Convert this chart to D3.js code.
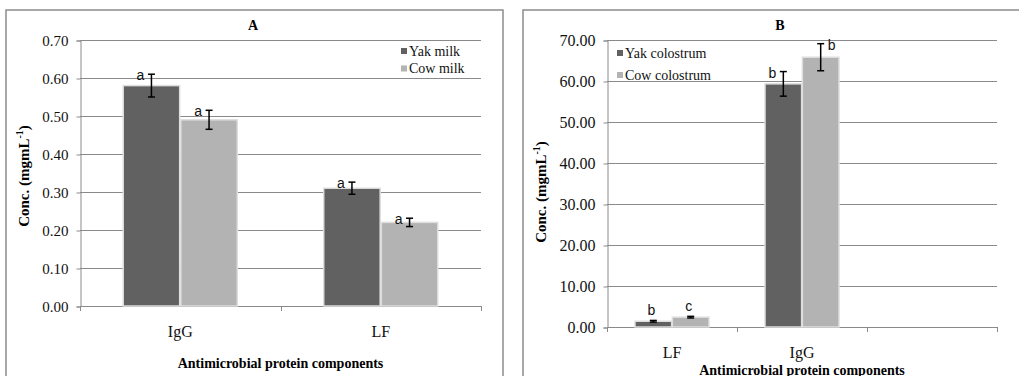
<!DOCTYPE html>
<html>
<head>
<meta charset="utf-8">
<script src="https://cdn.jsdelivr.net/npm/d3@7"></script>
<style>
  html, body { margin: 0; padding: 0; background: #fff; }
  svg { display: block; }
</style>
</head>
<body>
<svg id="chart" width="1019" height="376"></svg>
<script>
// ---- Panel A: milk ----
const catsA = ["IgG", "LF"];
const yakMilk = [0.58, 0.31];
const cowMilk = [0.49, 0.22];
const yakMilkErr = [0.03, 0.016];
const cowMilkErr = [0.025, 0.011];
const yakMilkSig = ["a", "a"];
const cowMilkSig = ["a", "a"];
const ticksA = [0, 0.1, 0.2, 0.3, 0.4, 0.5, 0.6, 0.7];
const seriesA = ["Yak milk", "Cow milk"];

// ---- Panel B: colostrum ----
const catsB = ["LF", "IgG", ""];
const yakColostrum = [1.4, 59.3];
const cowColostrum = [2.4, 65.8];
const yakColostrumErr = [0.2, 3.0];
const cowColostrumErr = [0.2, 3.3];
const yakColostrumSig = ["b", "b"];
const cowColostrumSig = ["c", "b"];
const ticksB = [0, 10, 20, 30, 40, 50, 60, 70];
const seriesB = ["Yak colostrum", "Cow colostrum"];

const DARK = "#616161";
const LIGHT = "#b3b3b3";
const GRID = "#8a8a8a";
const SERIF = "'Liberation Serif', 'Times New Roman', serif";
const SANS = "'Liberation Sans', Arial, sans-serif";

const svg = d3.select("#chart");

function panel(opt) {
  const g = svg.append("g");

  // frame around the panel
  g.append("rect")
    .attr("x", opt.frame[0]).attr("y", opt.frame[1])
    .attr("width", opt.frame[2]).attr("height", opt.frame[3])
    .attr("fill", "none").attr("stroke", "#8c8c8c").attr("stroke-width", 1.5);

  const x = d3.scaleBand().domain(opt.cats.map((c, i) => i))
    .range([opt.left, opt.right]).paddingInner(0).paddingOuter(0);
  const y = d3.scaleLinear().domain([0, opt.ticks[opt.ticks.length - 1]])
    .range([opt.bottom, opt.top]);

  // horizontal gridlines
  g.append("g").selectAll("line").data(opt.ticks.slice(1)).join("line")
    .attr("x1", opt.left).attr("x2", opt.right)
    .attr("y1", d => Math.round(y(d)) + 0.5).attr("y2", d => Math.round(y(d)) + 0.5)
    .attr("stroke", GRID).attr("stroke-width", 1);

  // y axis
  const yAxis = d3.axisLeft(y).tickValues(opt.ticks).tickFormat(d3.format(".2f"))
    .tickSize(4).tickPadding(8);
  const ya = g.append("g").attr("transform", `translate(${opt.left + 0.5},0.5)`).call(yAxis);
  ya.attr("font-family", null).attr("font-size", null);
  ya.select(".domain").attr("stroke", GRID);
  ya.selectAll(".tick line").attr("stroke", GRID);
  ya.selectAll(".tick text").style("font-family", SERIF).style("font-size", opt.tickFont + "px")
    .attr("fill", "#111");

  // category axis with boundary ticks
  const bounds = d3.range(opt.cats.length + 1).map(i => opt.left + i * x.bandwidth());
  const xa = g.append("g");
  xa.append("line").attr("x1", opt.left).attr("x2", opt.right)
    .attr("y1", opt.bottom + 0.5).attr("y2", opt.bottom + 0.5).attr("stroke", GRID);
  xa.selectAll("line.b").data(bounds).join("line").attr("class", "b")
    .attr("x1", d => Math.round(d) + 0.5).attr("x2", d => Math.round(d) + 0.5)
    .attr("y1", opt.bottom).attr("y2", opt.bottom + 5).attr("stroke", GRID);
  xa.selectAll("text").data(opt.cats).join("text")
    .style("font-family", SERIF).style("font-size", "16px").attr("fill", "#111")
    .attr("text-anchor", "middle")
    .attr("x", (d, i) => x(i) + x.bandwidth() / 2)
    .attr("y", opt.catLabelY)
    .text(d => d);

  // bars
  const inner = d3.scaleBand().domain([0, 1])
    .range([0, x.bandwidth()]).paddingOuter(0.75).paddingInner(0.02);
  const series = [
    { vals: opt.yak, err: opt.yakErr, sig: opt.yakSig, side: opt.yakSide, color: DARK },
    { vals: opt.cow, err: opt.cowErr, sig: opt.cowSig, side: opt.cowSide, color: LIGHT }
  ];
  series.forEach((s, si) => {
    const sg = g.append("g");
    const data = s.vals.map((v, i) => ({ v, i, e: s.err[i], sig: s.sig[i], side: s.side[i] }));
    const bx = d => x(d.i) + inner(si);
    const cx = d => bx(d) + inner.bandwidth() / 2;

    sg.selectAll("rect").data(data).join("rect")
      .attr("x", bx).attr("width", inner.bandwidth())
      .attr("y", d => y(d.v)).attr("height", d => y(0) - y(d.v))
      .attr("fill", s.color).attr("stroke", "#dedede").attr("stroke-width", 1.5);

    // error bars
    const eb = sg.selectAll("g.err").data(data).join("g").attr("class", "err");
    eb.append("line").attr("x1", cx).attr("x2", cx)
      .attr("y1", d => y(d.v + d.e)).attr("y2", d => y(d.v - d.e))
      .attr("stroke", "#000").attr("stroke-width", 1.5);
    eb.append("line").attr("x1", d => cx(d) - 3.5).attr("x2", d => cx(d) + 3.5)
      .attr("y1", d => y(d.v + d.e)).attr("y2", d => y(d.v + d.e))
      .attr("stroke", "#000").attr("stroke-width", 1.5);
    eb.append("line").attr("x1", d => cx(d) - 3.5).attr("x2", d => cx(d) + 3.5)
      .attr("y1", d => y(d.v - d.e)).attr("y2", d => y(d.v - d.e))
      .attr("stroke", "#000").attr("stroke-width", 1.5);

    // significance letters
    sg.selectAll("text").data(data).join("text")
      .style("font-family", SANS).style("font-size", "14px").attr("fill", "#111")
      .attr("text-anchor", "middle").attr("dominant-baseline", "central")
      .attr("x", d => d.side === "left" ? cx(d) - 11 : d.side === "right" ? cx(d) + 11 : cx(d) - 2)
      .attr("y", d => d.side === "top" ? y(d.v + d.e) - 10 : y(d.v + d.e) + 1)
      .text(d => d.sig);
  });

  // legend
  const lg = g.append("g");
  opt.series.forEach((name, i) => {
    const ly = opt.legend[1] + i * opt.legend[2];
    lg.append("rect").attr("x", opt.legend[0]).attr("y", ly - 3)
      .attr("width", 6).attr("height", 6).attr("fill", i === 0 ? DARK : LIGHT);
    lg.append("text").style("font-family", SERIF).style("font-size", "14px").attr("fill", "#111")
      .attr("x", opt.legend[0] + 8).attr("y", ly).attr("dominant-baseline", "central")
      .text(name);
  });

  // panel letter
  g.append("text").style("font-family", SERIF).style("font-size", "14px").attr("font-weight", "bold")
    .attr("text-anchor", "middle").attr("x", opt.titleX).attr("y", 30).text(opt.title);

  // axis titles
  g.append("text").style("font-family", SERIF).style("font-size", "14px").attr("font-weight", "bold")
    .attr("text-anchor", "middle")
    .attr("x", (opt.left + opt.right) / 2).attr("y", opt.xTitleY)
    .text("Antimicrobial protein components");

  const yt = g.append("text").style("font-family", SERIF).style("font-size", "15px").attr("font-weight", "bold")
    .attr("text-anchor", "middle")
    .attr("transform", `translate(${opt.yTitle[0]},${opt.yTitle[1]}) rotate(-90)`);
  yt.append("tspan").text("Conc.  (mgmL");
  yt.append("tspan").style("font-size", "10px").attr("dy", -6).text("-1");
  yt.append("tspan").attr("dy", 6).text(")");
}

panel({
  frame: [6, 10, 497, 380],
  left: 80, right: 481, top: 40, bottom: 306,
  cats: catsA, ticks: ticksA, tickFont: 15,
  yak: yakMilk, cow: cowMilk, yakErr: yakMilkErr, cowErr: cowMilkErr,
  yakSig: yakMilkSig, cowSig: cowMilkSig,
  yakSide: ["left", "left"], cowSide: ["left", "left"],
  series: seriesA, legend: [401, 51, 17.5],
  title: "A", titleX: 253,
  catLabelY: 337, xTitleY: 368,
  yTitle: [29, 176]
});

panel({
  frame: [523, 10, 514, 380],
  left: 607, right: 997, top: 40, bottom: 327,
  cats: catsB, ticks: ticksB, tickFont: 16,
  yak: yakColostrum, cow: cowColostrum, yakErr: yakColostrumErr, cowErr: cowColostrumErr,
  yakSig: yakColostrumSig, cowSig: cowColostrumSig,
  yakSide: ["top", "left"], cowSide: ["top", "right"],
  series: seriesB, legend: [617, 53, 22],
  title: "B", titleX: 780,
  catLabelY: 358, xTitleY: 375,
  yTitle: [546, 192]
});
</script>
</body>
</html>
